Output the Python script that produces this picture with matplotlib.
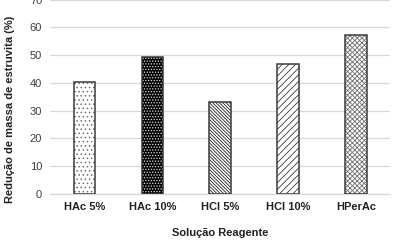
import matplotlib
matplotlib.use("Agg")
import matplotlib.pyplot as plt

categories = ["HAc 5%", "HAc 10%", "HCl 5%", "HCl 10%", "HPerAc"]
values = [40.4, 49.2, 33.0, 46.7, 57.3]
yticks = [0, 10, 20, 30, 40, 50, 60, 70]

plt.rcParams['font.family'] = ['Liberation Sans', 'DejaVu Sans']
plt.rcParams['hatch.linewidth'] = 0.6

fig = plt.figure(figsize=(3.96, 2.46), dpi=100)
ax = fig.add_axes([50.5/396, 1 - 194/246, (390 - 50.5)/396, 194.5/246])

styles = [
    dict(face="white", hatch="....", hcolor="#707070"),
    dict(face="black", hatch="......", hcolor="#dddddd"),
    dict(face="white", hatch="\\" * 10, hcolor="#202020"),
    dict(face="white", hatch="/////", hcolor="#3a3a3a"),
    dict(face="white", hatch="x" * 7, hcolor="#707070"),
]
x = list(range(len(categories)))
w = 0.317
for i, (xi, v, s) in enumerate(zip(x, values, styles)):
    ax.bar(xi, v, width=w, color=s["face"], hatch=s["hatch"], edgecolor=s["hcolor"],
           linewidth=0, zorder=2)
    ax.bar(xi, v, width=w, color="none", edgecolor="#3a3a3a", linewidth=1.1, zorder=3)

ax.set_xlim(-0.5, len(categories) - 0.5)
ax.set_ylim(0, 70)
ax.set_yticks(yticks)
ax.set_yticklabels([str(t) for t in yticks], fontsize=8, color="#404040")
ax.set_xticks(x)
ax.set_xticklabels(categories, fontsize=8, fontweight="bold", color="#222222")
ax.tick_params(axis="both", length=0, pad=6)
ax.tick_params(axis="x", pad=6)
ax.grid(axis="y", color="#d9d9d9", linewidth=0.9, zorder=0)
ax.set_axisbelow(True)
for sp in ["top", "right", "left"]:
    ax.spines[sp].set_visible(False)
ax.spines["bottom"].set_color("#d9d9d9")
ax.spines["bottom"].set_linewidth(0.9)

ax.set_ylabel("Redução de massa de estruvita (%)", fontsize=8, fontweight="bold", color="#222222")
ax.yaxis.set_label_coords((15 - 50.5) / 339.5, (194 - 109) / 194.5)
ax.set_xlabel("Solução Reagente", fontsize=8, fontweight="bold", color="#222222", labelpad=11)

fig.savefig("out.png", dpi=100)
